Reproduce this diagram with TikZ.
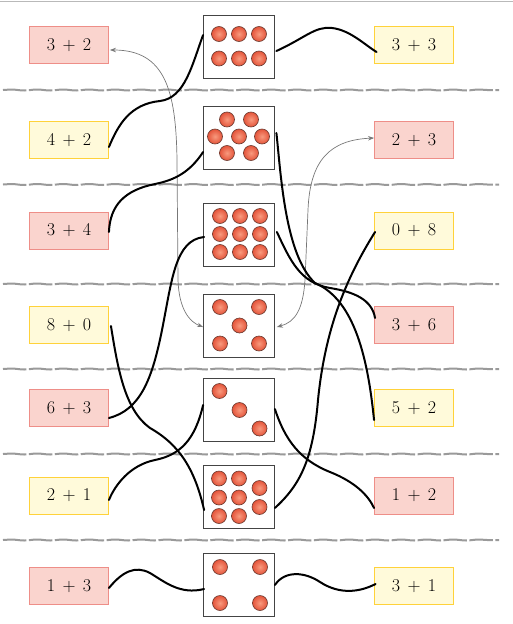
\documentclass[tikz,border=0pt]{standalone}
\usetikzlibrary{decorations.pathmorphing,arrows.meta,calc}
\definecolor{redfill}{HTML}{FAD4CE}
\definecolor{redline}{HTML}{EE8E88}
\definecolor{yelfill}{HTML}{FFFADA}
\definecolor{yelline}{HTML}{FFD23A}
\definecolor{midline}{HTML}{444444}
\definecolor{dotin}{HTML}{F89A7E}
\definecolor{dotout}{HTML}{E4543A}
\definecolor{dotline}{HTML}{6A3A30}
\definecolor{sepc}{HTML}{9A9A9A}
\definecolor{arrc}{HTML}{777777}
\begin{document}
\begin{tikzpicture}[x=1pt,y=-1pt,
  every node/.style={inner sep=0pt},
  card/.style={minimum width=79pt, minimum height=37pt, line width=0.9pt, font=\fontsize{18}{21}\selectfont},
  redbox/.style={card, draw=redline, fill=redfill},
  yelbox/.style={card, draw=yelline, fill=yelfill},
  midbox/.style={draw=midline, fill=white, minimum width=71pt, minimum height=63pt, line width=0.8pt},
  link/.style={line width=2pt, line cap=round, black},
  hint/.style={draw=arrc, line width=0.7pt, {Stealth[length=6pt,width=4.5pt]}-{Stealth[length=6pt,width=4.5pt]}},
  sepline/.style={draw=sepc, line width=2pt, decorate, decoration={snake, segment length=26pt, amplitude=0.5pt}, dash pattern=on 23.5pt off 2.5pt},
  ball/.style={inner color=dotin, outer color=dotout, draw=dotline, line width=0.6pt}
]
\useasboundingbox (0,0) rectangle (513,624);
\draw[gray!55, line width=1pt] (0,1) -- (513,1);

% separators
\foreach \yy in {90,184.5,284,369,454,540}
  \draw[sepline] (3,\yy) -- (499,\yy);

\newcommand\pl{\hspace{7.5pt}+\hspace{7.5pt}}
% left cards
\node[redbox] (L1) at (69,45)    {3\pl 2};
\node[yelbox] (L2) at (69,140)   {4\pl 2};
\node[redbox] (L3) at (69,230.5) {3\pl 4};
\node[yelbox] (L4) at (69,325)   {8\pl 0};
\node[redbox] (L5) at (69,408)   {6\pl 3};
\node[yelbox] (L6) at (69,495.5) {2\pl 1};
\node[redbox] (L7) at (69,586)   {1\pl 3};
% right cards
\node[yelbox] (R1) at (414,45)    {3\pl 3};
\node[redbox] (R2) at (414,140)   {2\pl 3};
\node[yelbox] (R3) at (414,230.5) {0\pl 8};
\node[redbox] (R4) at (414,325)   {3\pl 6};
\node[yelbox] (R5) at (414,408)   {5\pl 2};
\node[redbox] (R6) at (414,495.5) {1\pl 2};
\node[yelbox] (R7) at (414,586)   {3\pl 1};
% middle boxes
\node[midbox] (M1) at (239,46.5)  {};
\node[midbox] (M2) at (239,137.5) {};
\node[midbox] (M3) at (239,234.5) {};
\node[midbox] (M4) at (239,325.5) {};
\node[midbox] (M5) at (239,410)   {};
\node[midbox] (M6) at (239,497)   {};
\node[midbox] (M7) at (239,585)   {};

% dots
\foreach \p in {(219,34),(239,34),(259,34),(219,58.5),(239,58.5),(259,58.5),
  (227,119.5),(251,119.5),(215,136.5),(239,136.5),(262,136.5),(227,153),(251,153),
  (220,216),(240,216),(260,216),(220,234),(240,234),(260,234),(220,252),(240,252),(260,252),
  (220,307),(259,307),(239.5,325.5),(220,343.5),(259,343.5),
  (219.5,391),(239.5,410),(259.5,428.5),
  (219,478.5),(239,478.5),(219,497.5),(239,497.5),(219,516),(239,516),(259.5,488),(259.5,507),
  (220,567),(260,567),(220,603),(260,603)}
  \shadedraw[ball] \p circle (7.5pt);

% gray hint arrows
\draw[hint] ($(L1.east)+(1,5)$) .. controls (165,50) and (176,90) .. (177,160)
  -- (178,280) .. controls (179,310) and (190,322) .. ($(M4.west)+(0,1.5)$);
\draw[hint] ($(R2.west)+(0,-2)$) .. controls (330,140) and (310,160) .. (308,210)
  -- (305,280) .. controls (303,310) and (295,322) .. ($(M4.east)+(2,1.5)$);

% connectors
\draw[link] ($(M1.west)+(0,-11.5)$) .. controls (192,65) and (185,98) .. (160,101)
  .. controls (130,104) and (118,125) .. ($(L2.east)+(0,7)$);
\draw[link] ($(M1.east)+(1.5,4.5)$) .. controls (305,38) and (315,26) .. (332,28)
  .. controls (350,30) and (365,45) .. ($(R1.west)+(2.5,7)$);
\draw[link] ($(M2.west)+(0,14.5)$) .. controls (190,172) and (175,180) .. (155,184)
  .. controls (125,190) and (110,205) .. ($(L3.east)+(0,1.5)$);
\draw[link] ($(M2.east)+(1.5,-4.5)$) .. controls (281,175) and (285,255) .. (315,283)
  .. controls (355,300) and (368,360) .. ($(R5.west)+(0,12)$);
\draw[link] ($(M3.west)+(1,2.5)$) .. controls (175,240) and (172,280) .. (162,330)
  .. controls (152,380) and (140,410) .. ($(L5.east)+(0,10)$);
\draw[link] ($(M3.east)+(2,-2.5)$) .. controls (290,260) and (300,283) .. (330,288)
  .. controls (355,292) and (372,300) .. ($(R4.west)+(1,-7)$);
\draw[link] ($(L4.east)+(2,1)$) .. controls (118,370) and (125,410) .. (150,428)
  .. controls (180,445) and (195,470) .. ($(M6.west)+(1,13)$);
\draw[link] ($(R3.west)+(1,1.5)$) .. controls (345,280) and (325,330) .. (318,400)
  .. controls (313,460) and (300,485) .. ($(M6.east)+(0,11)$);
\draw[link] ($(M5.west)+(0,-5)$) .. controls (195,440) and (180,455) .. (155,460)
  .. controls (130,465) and (115,485) .. ($(L6.east)+(0,4.5)$);
\draw[link] ($(M5.east)+(0,-1)$) .. controls (285,440) and (300,460) .. (330,472)
  .. controls (355,482) and (368,495) .. ($(R6.west)+(0,12.5)$);
\draw[link] ($(L7.east)+(0,2)$) .. controls (122,572) and (135,565) .. (150,573)
  .. controls (165,582) and (180,595) .. ($(M7.west)+(1,4)$);
\draw[link] ($(M7.east)+(0,0)$) .. controls (285,570) and (305,572) .. (320,582)
  .. controls (340,595) and (360,592) .. ($(R7.west)+(1.5,-2)$);
\end{tikzpicture}
\end{document}
